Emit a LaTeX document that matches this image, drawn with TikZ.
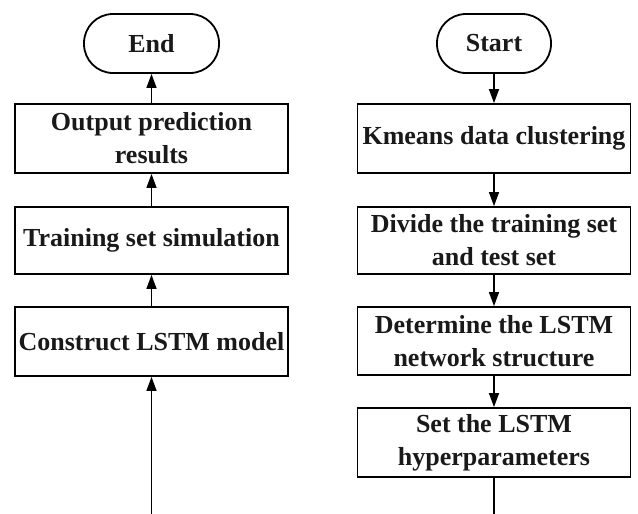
\documentclass[tikz,border=0pt]{standalone}
\usepackage{fontspec}
\setmainfont{Liberation Serif}
\usetikzlibrary{arrows.meta}
\begin{document}
\begin{tikzpicture}[x=1pt,y=1pt,
  every node/.style={font=\fontsize{26}{33}\selectfont\bfseries, text=black!90, inner sep=0pt, align=center},
  procbox/.style={draw, line width=1.8pt, minimum width=273pt},
  termbox/.style={draw, line width=1.8pt, rounded corners=29pt, minimum height=59pt},
  flow/.style={line width=1.3pt, -{Triangle[length=14pt,width=10pt]}},
  plain/.style={line width=1.3pt}]
\useasboundingbox (0,0) rectangle (638,-514);
% left column: model construction, read bottom to top
\node[termbox, minimum width=135pt] (end) at (151.5,-43.5) {End};
\node[procbox, minimum height=69pt] (output) at (151.5,-138.5) {Output prediction\\results};
\node[procbox, minimum height=67pt] (train) at (151.5,-240.5) {Training set simulation};
\node[procbox, minimum height=69pt] (construct) at (151.5,-341.5) {Construct LSTM model};
\coordinate (leftin) at (151.5,-514);
% right column: data preparation, read top to bottom
\node[termbox, minimum width=114pt] (start) at (494,-43.5) {Start};
\node[procbox, minimum height=69pt] (kmeans) at (494,-138.5) {Kmeans data clustering};
\node[procbox, minimum height=67pt] (divide) at (494,-240.5) {Divide the training set\\and test set};
\node[procbox, minimum height=68pt] (determine) at (494,-341) {Determine the LSTM\\network structure};
\node[procbox, minimum height=69pt] (hyper) at (494,-442.5) {Set the LSTM\\hyperparameters};
\coordinate (rightout) at (494,-514);
% connectors
\draw[flow] (leftin) -- (construct.south);
\draw[flow] (construct.north) -- (train.south);
\draw[flow] (train.north) -- (output.south);
\draw[flow] (output.north) -- (end.south);
\draw[flow] (start.south) -- (kmeans.north);
\draw[flow] (kmeans.south) -- (divide.north);
\draw[flow] (divide.south) -- (determine.north);
\draw[flow] (determine.south) -- (hyper.north);
\draw[plain] (hyper.south) -- (rightout);
\end{tikzpicture}
\end{document}
